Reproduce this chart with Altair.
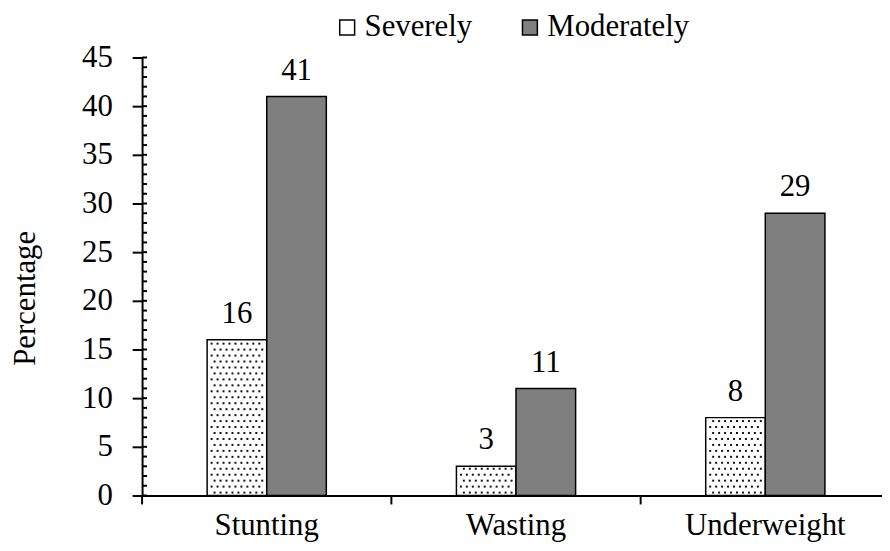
import altair as alt
import pandas as pd

categories = ["Stunting", "Wasting", "Underweight"]
series = ["Severely", "Moderately"]
severely = [16, 3, 8]
moderately = [41, 11, 29]
y_major_ticks = [0, 5, 10, 15, 20, 25, 30, 35, 40, 45]
y_minor_ticks = list(range(0, 46))

rows = []
for c, s, m in zip(categories, severely, moderately):
    rows.append({"cat": c, "series": "Severely", "value": s})
    rows.append({"cat": c, "series": "Moderately", "value": m})
df = pd.DataFrame(rows)
minor_df = pd.DataFrame({"value": y_minor_ticks})
cat_df = pd.DataFrame({"cat": categories})

# dotted texture for the "Severely" bars (decoration derived from the bar values)
dot_rows = []
ROW_STEP = 0.612
for c, s in zip(categories, severely):
    j = 0
    while 0.3 + ROW_STEP * j < s - 0.25:
        ks = range(2, 19, 2) if j % 2 == 0 else range(1, 18, 2)
        for k in ks:
            dot_rows.append({"cat": c, "k": k, "value": 0.3 + ROW_STEP * j})
        j += 1
dots_df = pd.DataFrame(dot_rows)

FONT = "Liberation Serif"
FS = 31
W, H = 745, 441

xscale = alt.Scale(domain=categories, range=[0, 753], paddingInner=0, paddingOuter=0)
yscale = alt.Scale(domain=[0, 45], nice=False, zero=True)
offscale = alt.Scale(type="band", domain=series, range=[65.5, 185.5], paddingInner=0, paddingOuter=0)
dotscale = alt.Scale(type="band", domain=list(range(20)), range=[65.5, 125.5], paddingInner=0, paddingOuter=0)
fillscale = alt.Scale(domain=series, range=["#ffffff", "#7f7f7f"])

x_enc = alt.X(
    "cat:N", scale=xscale, sort=categories, title=None,
    axis=alt.Axis(ticks=False, domainColor="black", domainWidth=2,
                  labelFont=FONT, labelFontSize=FS, labelColor="black",
                  labelBaseline="alphabetic", labelPadding=39, labelAngle=0),
)
y_enc = alt.Y(
    "value:Q", scale=yscale, title="Percentage",
    axis=alt.Axis(values=y_major_ticks, grid=False, domainColor="black", domainWidth=2,
                  tickColor="black", tickWidth=2, tickSize=10, labelPadding=20,
                  labelFont=FONT, labelFontSize=FS, labelColor="black",
                  titleFont=FONT, titleFontSize=31, titleFontWeight="normal", titleColor="black",
                  titleAngle=270, titleBaseline="alphabetic", titleAlign="center",
                  titleX=-108, titleY=242),
)

bars = alt.Chart(df).mark_bar(stroke="black", strokeWidth=1.5).encode(
    x=x_enc,
    xOffset=alt.XOffset("series:N", scale=offscale, sort=series),
    y=y_enc,
    fill=alt.Fill("series:N", scale=fillscale, sort=series, title=None,
                  legend=alt.Legend(orient="none", legendX=191, legendY=-46, direction="horizontal",
                                    symbolType="square", symbolSize=225, symbolStrokeColor="black",
                                    symbolStrokeWidth=1.5, labelFont=FONT, labelFontSize=FS,
                                    labelColor="black", labelOffset=2, columnPadding=42,
                                    padding=0, labelBaseline="middle")),
)

dots = alt.Chart(dots_df).mark_square(size=4, color="#111111", opacity=1).encode(
    x=alt.X("cat:N", scale=xscale, sort=categories),
    xOffset=alt.XOffset("k:O", scale=dotscale),
    y=alt.Y("value:Q", scale=yscale),
)

labels = alt.Chart(df).mark_text(font=FONT, fontSize=FS, color="black", baseline="alphabetic",
                                 align="center", dy=-17).encode(
    x=alt.X("cat:N", scale=xscale, sort=categories),
    xOffset=alt.XOffset("series:N", scale=offscale, sort=series),
    y=alt.Y("value:Q", scale=yscale),
    text=alt.Text("value:Q"),
)

minor = alt.Chart(minor_df).mark_rule(color="black", strokeWidth=2).encode(
    y=alt.Y("value:Q", scale=yscale),
    x=alt.value(0),
    x2=alt.value(5),
)

xticks = alt.Chart(cat_df).mark_rule(color="black", strokeWidth=2).encode(
    x=alt.X("cat:N", scale=xscale, sort=categories, bandPosition=0),
    y=alt.value(H),
    y2=alt.value(H + 9),
)

chart = alt.layer(bars, dots, labels, minor, xticks).resolve_scale(
    xOffset="independent"
).properties(
    width=W, height=H,
    autosize=alt.AutoSizeParams(type="none"),
    padding={"left": 135, "top": 48, "right": 0, "bottom": 46},
).configure(
    font=FONT, background="white", view=alt.ViewConfig(stroke=None)
)

chart.save("out.html", embed_options={"renderer": "svg", "actions": False})
